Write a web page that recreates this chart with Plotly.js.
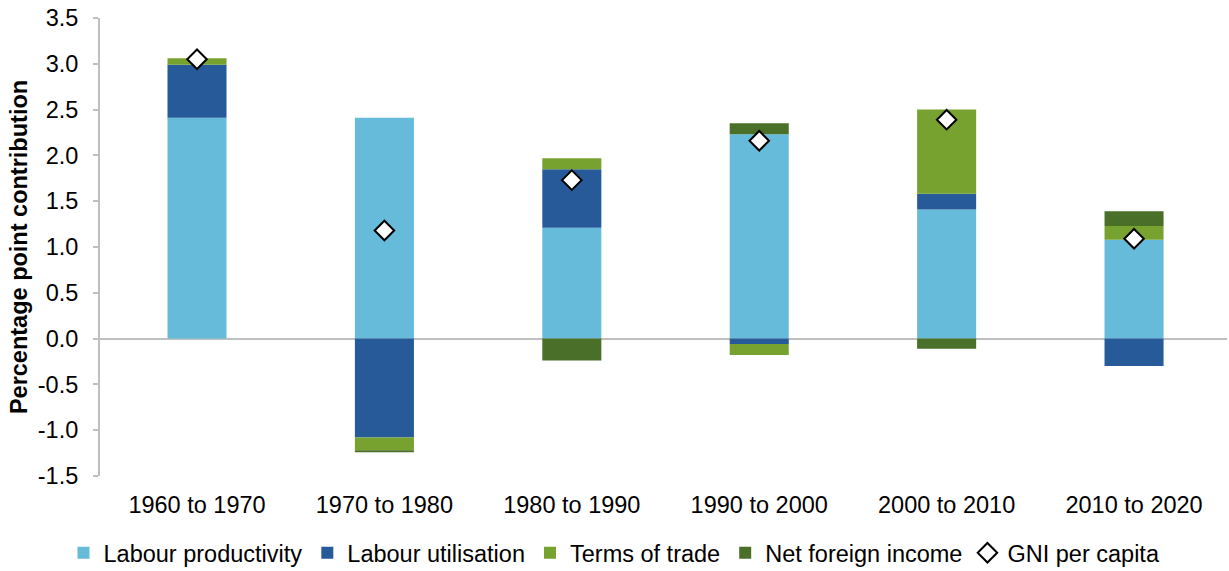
<!DOCTYPE html>
<html>
<head>
<meta charset="utf-8">
<script src="https://cdn.plot.ly/plotly-3.0.1.min.js"></script>
<style>html,body{margin:0;padding:0;background:#fff;}#chart{width:1229px;height:571px;}</style>
</head>
<body>
<div id="chart"></div>
<script>
const categories = ["1960 to 1970","1970 to 1980","1980 to 1990","1990 to 2000","2000 to 2010","2010 to 2020"];
const labourProductivity = [2.41, 2.41, 1.21, 2.23, 1.41, 1.08];
const labourUtilisation  = [0.58, -1.08, 0.64, -0.06, 0.17, -0.30];
const termsOfTrade       = [0.07, -0.14, 0.12, -0.12, 0.92, 0.15];
const netForeignIncome   = [0.00, -0.02, -0.24, 0.12, -0.11, 0.16];
const gniPerCapita       = [3.05, 1.18, 1.73, 2.16, 2.39, 1.09];
const yTickVals = [-1.5,-1.0,-0.5,0.0,0.5,1.0,1.5,2.0,2.5,3.0,3.5];
const yTickText = ["-1.5","-1.0","-0.5","0.0","0.5","1.0","1.5","2.0","2.5","3.0","3.5"];

const font = {family: "Liberation Sans, Arial, sans-serif", size: 23.5, color: "#000"};
function barTrace(name, vals, color) {
  return {type: "bar", name: name, x: categories, y: vals,
    marker: {color: color, line: {width: 0}}, hoverinfo: "skip"};
}
const traces = [
  barTrace("Labour productivity", labourProductivity, "#66BBDB"),
  barTrace("Labour utilisation", labourUtilisation, "#275A99"),
  barTrace("Terms of trade", termsOfTrade, "#78A22F"),
  barTrace("Net foreign income", netForeignIncome, "#4A6F28"),
  {type: "scatter", mode: "markers", name: "GNI per capita", x: categories, y: gniPerCapita,
   marker: {symbol: "diamond", size: 15, color: "#fff", line: {color: "#000", width: 2}}, hoverinfo: "skip"}
];
const layout = {
  width: 1229, height: 571,
  margin: {l: 100, r: 2, t: 18, b: 95},
  paper_bgcolor: "#fff", plot_bgcolor: "#fff",
  font: font,
  barmode: "relative",
  bargap: 0.685,
  showlegend: true,
  legend: {orientation: "h", xref: "container", x: 0.5, xanchor: "center",
    yref: "container", y: 0.0315, yanchor: "middle",
    font: font, traceorder: "normal", itemwidth: 30, itemclick: false},
  xaxis: {type: "category", range: [-0.5176, 5.496], showline: false, ticks: "", showgrid: false, zeroline: false,
    tickfont: font, ticklabelstandoff: 12, automargin: false},
  yaxis: {range: [-1.5, 3.5], tickvals: yTickVals, ticktext: yTickText,
    showline: true, linecolor: "#BFBFBF", linewidth: 2, ticks: "outside", ticklen: 5,
    tickcolor: "#BFBFBF", tickwidth: 2, showgrid: false, ticklabelstandoff: 10,
    zeroline: true, zerolinecolor: "#BFBFBF", zerolinewidth: 2, tickfont: font,
    title: {text: "<b>Percentage point contribution</b>", font: font, standoff: 4}}
};
Plotly.newPlot("chart", traces, layout, {displayModeBar: false, staticPlot: true});
</script>
</body>
</html>
